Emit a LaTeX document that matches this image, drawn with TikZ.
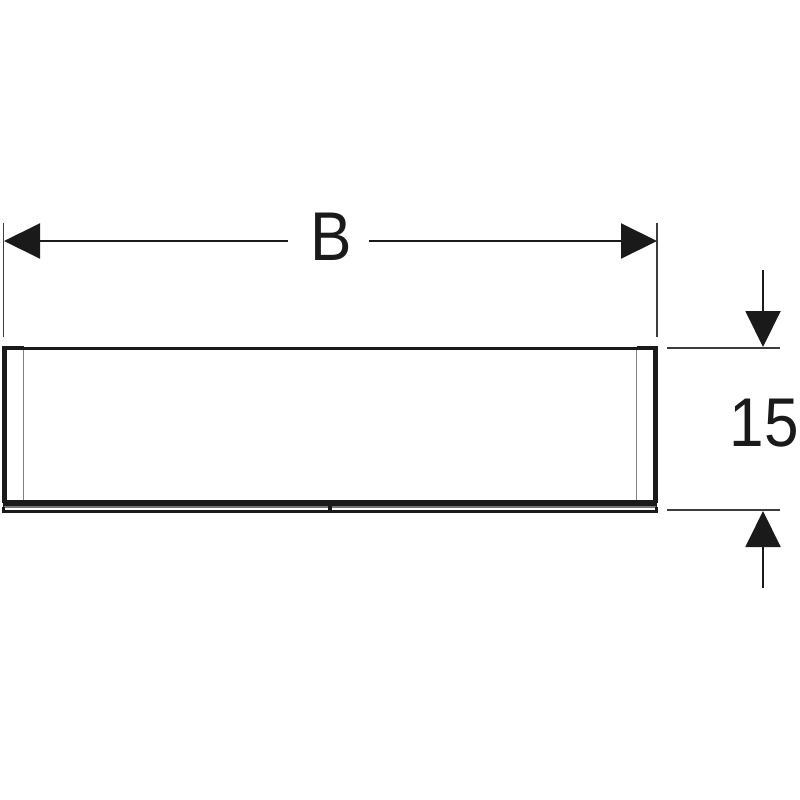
\documentclass[tikz,border=0pt]{standalone}
\usepackage{fontspec}
\setmainfont{Liberation Sans}
\usetikzlibrary{arrows.meta}
\definecolor{ink}{HTML}{1A1A1A}
\tikzset{
  dimline/.style={draw=ink,line width=2pt},
  extline/.style={draw=ink!85,line width=1.9pt},
  dimarrow/.style={dimline,-{Triangle[length=36pt,width=35pt,fill=ink]}},
  body/.style={draw=ink,line width=4.4pt,line join=miter},
  thin/.style={draw=ink!55,line width=1.9pt},
  dimtext/.style={font=\fontsize{69}{69}\selectfont,text=ink,inner sep=0pt,xscale=0.9}
}
\begin{document}
\begin{tikzpicture}[x=1pt,y=-1pt]
\useasboundingbox (0,0) rectangle (800,800);
\fill[white] (0,0) rectangle (800,800);
% extension lines
\coordinate (e1a) at (3.5,223); \coordinate (e1b) at (3.5,337);
\coordinate (e2a) at (657,223); \coordinate (e2b) at (657,337);
\coordinate (e3a) at (667,348); \coordinate (e3b) at (780,348);
\coordinate (e4a) at (667,510); \coordinate (e4b) at (780,510);
\draw[extline] (e1a) -- (e1b);
\draw[extline] (e2a) -- (e2b);
\draw[extline] (e3a) -- (e3b);
\draw[extline] (e4a) -- (e4b);
% B dimension
\node[dimtext] (B) at (331,237) {B};
\coordinate (bl) at (288,241); \coordinate (bltip) at (4,241);
\coordinate (br) at (369,241); \coordinate (brtip) at (657,241);
\draw[dimarrow] (bl) -- (bltip);
\draw[dimarrow] (br) -- (brtip);
% 15 dimension
\node[dimtext] (H) at (764.5,423) {15};
\coordinate (vt) at (763,270); \coordinate (vttip) at (763,347);
\coordinate (vb) at (763,588); \coordinate (vbtip) at (763,511);
\draw[dimarrow] (vt) -- (vttip);
\draw[dimarrow] (vb) -- (vbtip);
% body
\draw[thin] (23.5,348) -- (23.5,500);
\draw[thin] (636.5,348) -- (636.5,500);
\draw[draw=ink,line width=3pt] (23.5,348.5) -- (636.5,348.5);
\draw[body] (23.5,348) -- (4.5,348) -- (4.5,503);
\draw[body] (636.5,348) -- (655.5,348) -- (655.5,503);
\draw[draw=ink,line width=7pt] (3,503.5) -- (657,503.5);
\draw[draw=ink!60,line width=2pt] (3.7,507) -- (656.3,507);
\draw[draw=ink,line width=2.2pt] (3.5,507) -- (3.5,511.5) -- (656.5,511.5) -- (656.5,507);
\draw[draw=ink,line width=3.4pt] (330,505) -- (330,511);
\end{tikzpicture}
\end{document}
